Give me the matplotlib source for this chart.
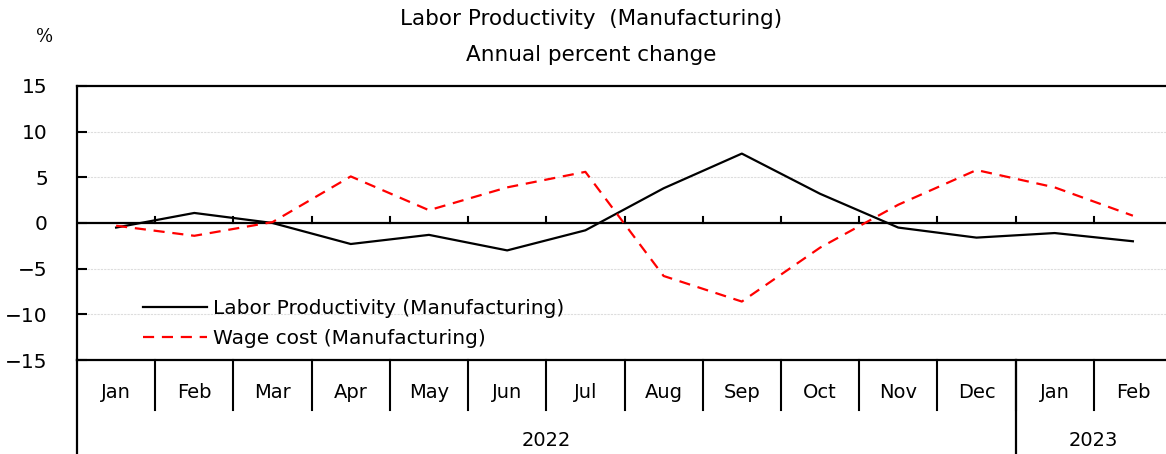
import numpy as np
import matplotlib.pyplot as plt
import matplotlib.transforms as mtransforms

months = ["Jan", "Feb", "Mar", "Apr", "May", "Jun", "Jul",
          "Aug", "Sep", "Oct", "Nov", "Dec", "Jan", "Feb"]
years = ["2022", "2023"]
year_counts = [12, 2]

labor_productivity = [-0.5, 1.1, 0.0, -2.3, -1.3, -3.0, -0.8,
                      3.8, 7.6, 3.2, -0.5, -1.6, -1.1, -2.0]
wage_cost = [-0.3, -1.4, 0.1, 5.1, 1.4, 3.9, 5.6,
             -5.8, -8.6, -2.7, 2.0, 5.8, 3.9, 0.8]

plt.rcParams['font.family'] = ['DejaVu Sans']

fig = plt.figure(figsize=(11.66, 4.54), dpi=100)
ax = fig.add_axes([77 / 1166, 94 / 454, 1095 / 1166, 274 / 454])

x = np.arange(len(months))
ax.plot(x, labor_productivity, color="black", lw=1.6,
        label="Labor Productivity (Manufacturing)")
ax.plot(x, wage_cost, color="red", lw=1.6, dashes=(5, 3.5),
        label="Wage cost (Manufacturing)")

ax.set_xlim(-0.5, len(months) - 0.5)
ax.set_ylim(-15, 15)
ax.set_yticks(np.arange(-15, 16, 5))
ax.set_yticklabels([str(v).replace("-", "\u2212") for v in range(-15, 16, 5)], fontsize=14.5)
ax.tick_params(axis="y", direction="in", length=7, width=1.5, pad=21)
ax.set_xticks([])
for v in [-10, -5, 5, 10]:
    ax.axhline(v, color="#dddddd", lw=0.8, ls=(0, (2, 1)), zorder=0)

# zero line with small ticks at category boundaries
ax.axhline(0, color="black", lw=1.6, zorder=1)
for b in np.arange(0.5, len(months) - 0.5, 1):
    ax.plot([b, b], [0, 0.7], color="black", lw=1.5)

for s in ax.spines.values():
    s.set_linewidth(1.6)

# category axis under the plot
trans = mtransforms.blended_transform_factory(ax.transData, ax.transAxes)
for i, m in enumerate(months):
    ax.text(i, -0.117, m, transform=trans, ha="center", va="center", fontsize=14)
for b in np.arange(0.5, len(months) - 0.5, 1):
    ax.plot([b, b], [0, -0.182], color="black", lw=1.5, transform=trans, clip_on=False)
start = -0.5
for y, n in zip(years, year_counts):
    ax.text(start + n / 2, -0.292, y, transform=trans, ha="center", va="center", fontsize=14)
    ax.plot([start, start], [0, -0.35], color="black", lw=1.6, transform=trans, clip_on=False)
    start += n

ax.legend(loc="upper left", bbox_to_anchor=(0.06, 0.224), frameon=False,
          fontsize=14.5, handlelength=3.2, handletextpad=0.3, labelspacing=0.55,
          borderpad=0, borderaxespad=0)

fig.text(591 / 1166, 1 - 19 / 454, "Labor Productivity  (Manufacturing)",
         ha="center", va="center", fontsize=15.5)
fig.text(591 / 1166, 1 - 55 / 454, "Annual percent change",
         ha="center", va="center", fontsize=15.5)
fig.text(45 / 1166, 1 - 37 / 454, "%", ha="center", va="center",
         fontsize=13, family="DejaVu Serif")

fig.savefig("out.png", dpi=100)
